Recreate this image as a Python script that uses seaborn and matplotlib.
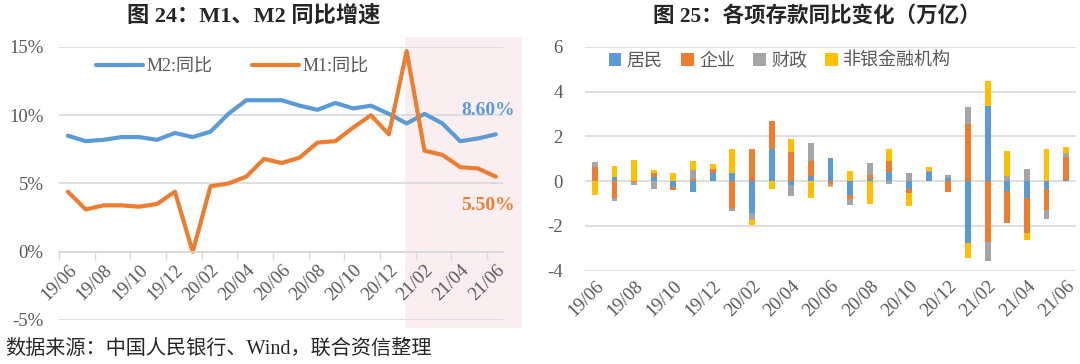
"""M1/M2 同比增速 + 各项存款同比变化 双图"""
import matplotlib
matplotlib.use("Agg")
import matplotlib.patches as mpatches
import matplotlib.pyplot as plt
import numpy as np
import seaborn as sns

months = [
    "19/06", "19/07", "19/08", "19/09", "19/10", "19/11", "19/12",
    "20/01", "20/02", "20/03", "20/04", "20/05", "20/06", "20/07", "20/08",
    "20/09", "20/10", "20/11", "20/12", "21/01", "21/02", "21/03", "21/04",
    "21/05", "21/06",
]
m2_yoy = [8.5, 8.1, 8.2, 8.4, 8.4, 8.2, 8.7, 8.4, 8.8, 10.1, 11.1, 11.1, 11.1,
          10.7, 10.4, 10.9, 10.5, 10.7, 10.1, 9.4, 10.1, 9.4, 8.1, 8.3, 8.6]
m1_yoy = [4.4, 3.1, 3.4, 3.4, 3.3, 3.5, 4.4, 0.0, 4.8, 5.0, 5.5, 6.8, 6.5,
          6.9, 8.0, 8.1, 9.1, 10.0, 8.6, 14.7, 7.4, 7.1, 6.2, 6.1, 5.5]

# 各项存款同比变化（万亿）
household = [0.0, 0.17, 0.0, 0.2, -0.28, -0.5, 0.36, 0.37, -1.44, 1.43, -0.16, 0.22, 1.05,
             -0.6, 0.12, 0.39, -0.35, 0.42, 0.15, -2.75, 3.36, -0.42, -0.75, -0.35, 0.05]
corporate = [0.65, -0.75, -0.03, 0.17, -0.1, 0.12, 0.18, -1.2, 1.46, 1.27, 1.31, 0.67, -0.12,
             -0.18, 0.15, 0.53, -0.17, 0.0, -0.5, 2.55, -2.7, -1.45, -1.55, -0.93, 1.02]
fiscal = [0.2, -0.15, -0.14, -0.37, 0.0, 0.4, 0.0, -0.13, -0.3, 0.0, -0.5, 0.83, -0.1,
          -0.3, 0.55, -0.12, 0.35, 0.03, 0.12, 0.78, -0.85, 0.25, 0.53, -0.4, 0.2]
nonbank = [-0.63, 0.5, 0.95, 0.15, 0.35, 0.38, 0.22, 1.08, -0.2, -0.33, 0.57, -0.73, -0.06,
           0.46, -1.0, 0.5, -0.57, 0.18, 0.0, -0.68, 1.12, 1.1, -0.33, 1.45, 0.28]

BLUE = "#5B9BD5"
ORANGE = "#ED7D31"
GRAY = "#A5A5A5"
YELLOW = "#FFC000"
GRID = "#D9D9D9"
TEXT = "#595959"

sns.set_theme(style="white")
plt.rcParams["font.family"] = ["Liberation Serif", "Noto Sans CJK SC", "DejaVu Sans"]
plt.rcParams["axes.unicode_minus"] = False

fig = plt.figure(figsize=(10.8, 3.64), dpi=100)
ax1 = fig.add_axes([0.0546, 0.1209, 0.4111, 0.75])
ax2 = fig.add_axes([0.5417, 0.2563, 0.4546, 0.6146])

# ---------- 图 24 ----------
idx = np.arange(len(months))
ax1.add_patch(mpatches.Rectangle((18.9, -5.6), 6.55, 21.33, facecolor="#FBEEF0",
                                 edgecolor="none", zorder=0, clip_on=False))
sns.lineplot(x=idx, y=m2_yoy, color=BLUE, lw=3, label="M2:同比", ax=ax1)
sns.lineplot(x=idx, y=m1_yoy, color=ORANGE, lw=3, label="M1:同比", ax=ax1)
ax1.set_xlim(-0.45, 24.4)
ax1.set_ylim(-5, 15)
ax1.set_yticks([-5, 0, 5, 10, 15])
ax1.set_yticklabels([f"{v}%" for v in [-5, 0, 5, 10, 15]])
ax1.yaxis.grid(True, color=GRID, lw=1.2)
ax1.set_axisbelow(True)
for side in ["top", "right", "left"]:
    ax1.spines[side].set_visible(False)
ax1.spines["bottom"].set_position(("data", 0))
ax1.spines["bottom"].set_color(GRID)
ax1.set_xticks(idx[::2])
ax1.set_xticklabels(months[::2], rotation=45, ha="right", rotation_mode="anchor")
ax1.set_xticks(np.arange(-0.5, 24, 2), minor=True)
ax1.tick_params(axis="x", which="major", length=0, pad=7, labelsize=13.5, labelcolor=TEXT)
ax1.tick_params(axis="x", which="minor", length=6, width=1, color=GRID, direction="out", bottom=True)
ax1.tick_params(axis="y", length=0, pad=11, labelsize=13.5, labelcolor=TEXT)
ax1.set_xlabel("")
ax1.set_ylabel("")
ax1.legend(loc="center", bbox_to_anchor=(0.39, 0.927), ncol=2, frameon=False, fontsize=13,
           handlelength=2.6, columnspacing=2.2, handletextpad=0.2, labelcolor=TEXT)
ax1.text(23.55, 10.38, "8.60%", color=BLUE, fontweight="bold", fontsize=14, ha="center", va="center")
ax1.text(23.55, 3.42, "5.50%", color=ORANGE, fontweight="bold", fontsize=14, ha="center", va="center")

# ---------- 图 25 ----------
series = [("居民", household, BLUE), ("企业", corporate, ORANGE),
          ("财政", fiscal, GRAY), ("非银金融机构", nonbank, YELLOW)]
pos = np.zeros(len(months))
neg = np.zeros(len(months))
for name, vals, color in series:
    vals = np.array(vals)
    bottom = np.where(vals >= 0, pos, neg)
    sns.barplot(x=months, y=vals, bottom=bottom, color=color, saturation=1, width=0.3,
                linewidth=0, errorbar=None, label=name, ax=ax2)
    pos += np.clip(vals, 0, None)
    neg += np.clip(vals, None, 0)
ax2.set_xlim(-0.5, 24.5)
ax2.set_ylim(-4, 6)
ax2.set_yticks([-4, -2, 0, 2, 4, 6])
ax2.set_yticklabels(["-4", "-2", "0", "2", "4", "6"])
ax2.yaxis.grid(True, color=GRID, lw=1.2)
ax2.set_axisbelow(True)
for side in ["top", "right", "left", "bottom"]:
    ax2.spines[side].set_visible(False)
ax2.set_xticks(idx[::2])
ax2.set_xticklabels(months[::2], rotation=45, ha="right", rotation_mode="anchor")
ax2.tick_params(axis="x", length=0, pad=5, labelsize=13.5, labelcolor=TEXT)
ax2.tick_params(axis="y", length=0, pad=16, labelsize=13.5, labelcolor=TEXT)
ax2.set_xlabel("")
ax2.set_ylabel("")
ax2.legend(loc="center", bbox_to_anchor=(0.397, 0.937), ncol=4, frameon=False, fontsize=13,
           handlelength=0.7, handleheight=0.7, handletextpad=0.3, columnspacing=1.0, labelcolor=TEXT)

# ---------- 标题 / 来源 ----------
fig.text(254 / 1080, 1 - 16 / 364, "图 24：M1、M2 同比增速", ha="center", va="center",
         fontsize=16, fontweight="bold")
fig.text(817 / 1080, 1 - 16 / 364, "图 25：各项存款同比变化（万亿）", ha="center", va="center",
         fontsize=15.5, fontweight="bold")
fig.text(5 / 1080, 1 - 349 / 364, "数据来源：中国人民银行、Wind，联合资信整理", ha="left", va="center",
         fontsize=14.5)

fig.savefig("out.png", dpi=100)
